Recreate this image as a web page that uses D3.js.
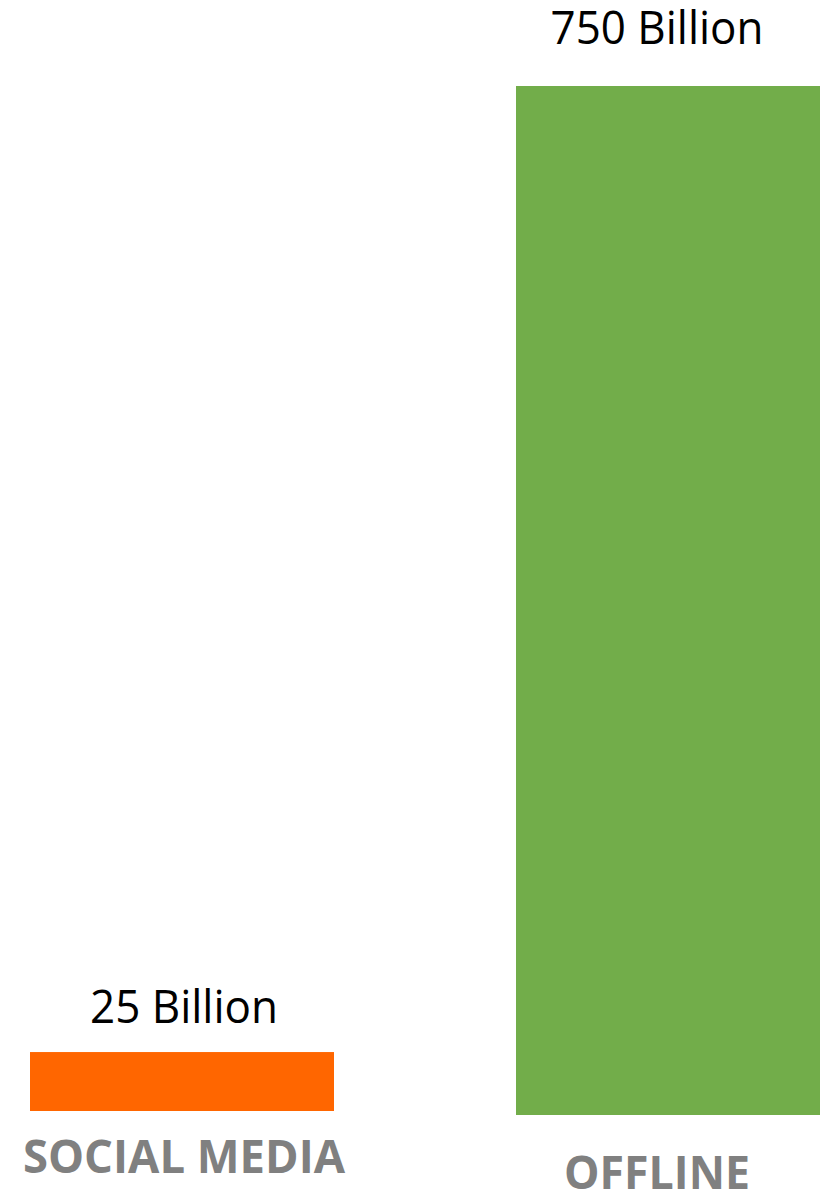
<html>
<head>
    <meta charset="utf-8" />
    <script src="https://d3js.org/d3.v7.min.js"></script>
</head>
<style>
    body {
        margin: 0;
        padding: 0;
        background: white;
    }
</style>
<body>
    <div id="chart"></div>
</body>
<script type="text/javascript">

    // data
    const categories = ["SOCIAL MEDIA", "OFFLINE"];
    const values = [25, 750];
    const valueLabels = ["25 Billion", "750 Billion"];
    const colors = ["#ff6600", "#72ad4a"];

    const width = 822, height = 1190;

    // small per-bar nudges so it lines up with the original artwork
    const layout = [
        { base: 1111, valueGap: 29, valueDx: 2, catY: 1173, catDx: 2, valueW: 188, catW: 322 },
        { base: 1115, valueGap: 42, valueDx: -11, catY: 1189, catDx: -11, valueW: 213, catW: 186 }
    ];

    const svg = d3.select("#chart")
        .append("svg")
        .attr("width", width)
        .attr("height", height);

    const x = d3.scaleBand()
        .domain(categories)
        .range([30, 820])
        .paddingInner(0.3745)
        .paddingOuter(0);

    // bar height; the original isn't drawn to zero, there's a minimum height
    const h = d3.scaleLinear()
        .domain([0, 750])
        .range([25.5, 1029]);

    const rows = categories.map((c, i) => ({
        cat: c, value: values[i], label: valueLabels[i], color: colors[i], l: layout[i]
    }));

    svg.selectAll("rect.bar")
        .data(rows)
        .enter()
        .append("rect")
        .attr("class", "bar")
        .attr("x", d => x(d.cat))
        .attr("width", x.bandwidth())
        .attr("y", d => d.l.base - h(d.value))
        .attr("height", d => h(d.value))
        .attr("fill", d => d.color);

    svg.selectAll("text.value")
        .data(rows)
        .enter()
        .append("text")
        .attr("class", "value")
        .attr("x", d => x(d.cat) + x.bandwidth() / 2 + d.l.valueDx)
        .attr("y", d => d.l.base - h(d.value) - d.l.valueGap)
        .attr("text-anchor", "middle")
        .attr("textLength", d => d.l.valueW)
        .attr("lengthAdjust", "spacingAndGlyphs")
        .style("font-family", "'Open Sans', sans-serif")
        .style("font-size", "45px")
        .style("fill", "#000")
        .text(d => d.label);

    svg.selectAll("text.cat")
        .data(rows)
        .enter()
        .append("text")
        .attr("class", "cat")
        .attr("x", d => x(d.cat) + x.bandwidth() / 2 + d.l.catDx)
        .attr("y", d => d.l.catY)
        .attr("text-anchor", "middle")
        .attr("textLength", d => d.l.catW)
        .attr("lengthAdjust", "spacingAndGlyphs")
        .style("font-family", "'Open Sans', sans-serif")
        .style("font-weight", "bold")
        .style("font-size", "47px")
        .style("fill", "#808080")
        .text(d => d.cat);

</script>
</html>
